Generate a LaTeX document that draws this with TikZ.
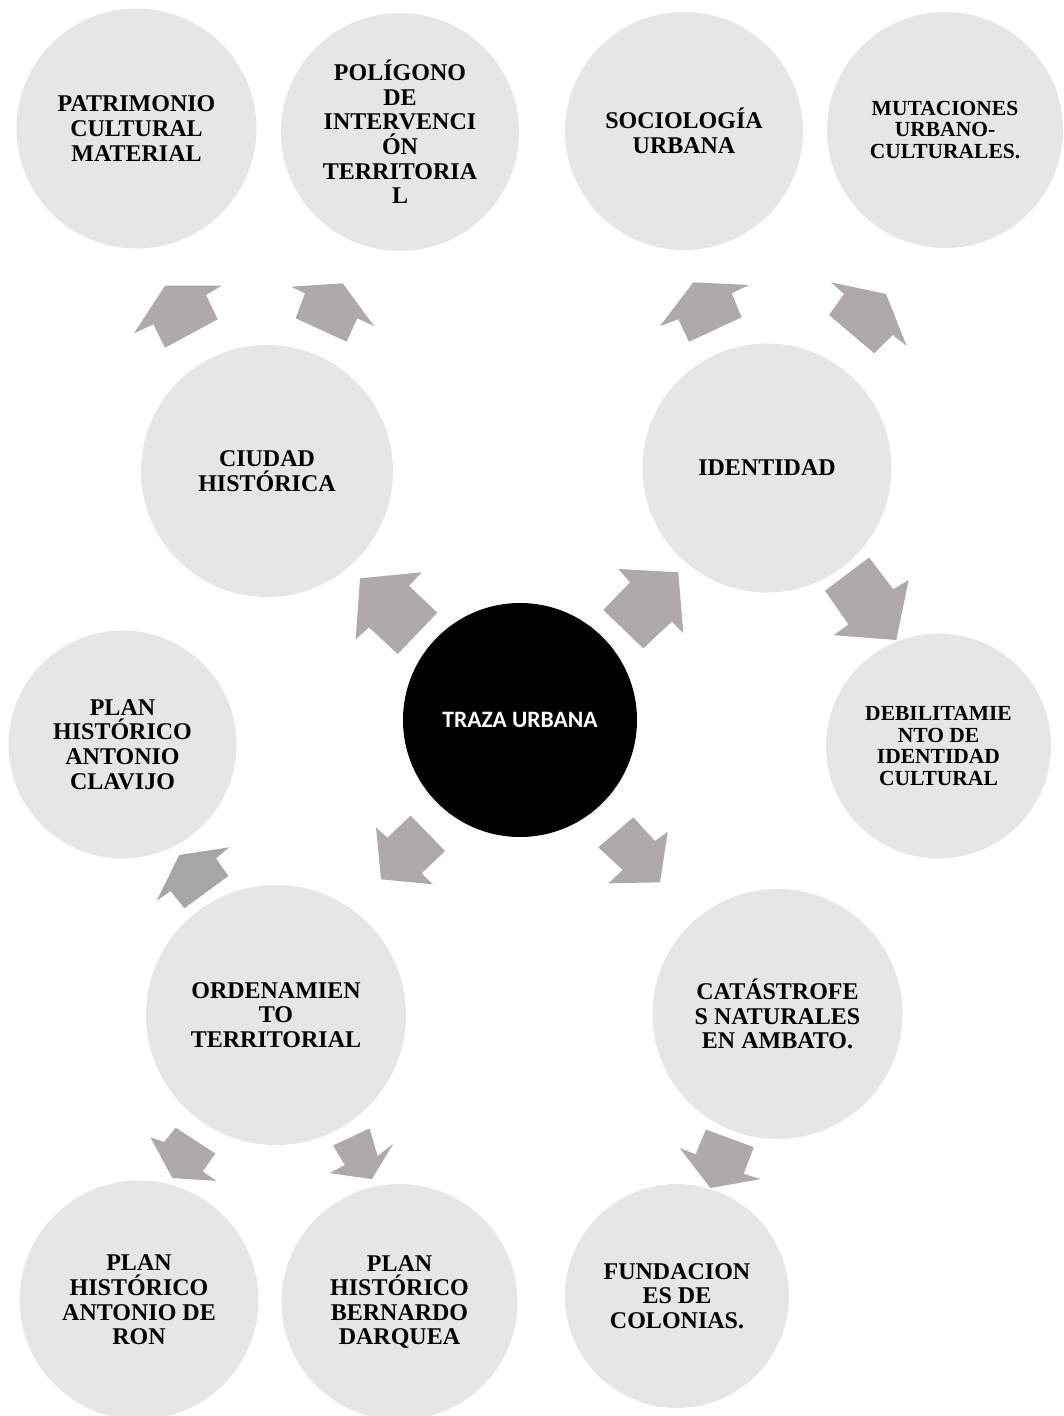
\documentclass[tikz,border=0pt]{standalone}
\usepackage{fontspec}
\setmainfont{Liberation Serif}
\newfontfamily\calibrifont{Carlito}
\definecolor{circfill}{HTML}{E7E6E6}
\definecolor{arrfill}{HTML}{AEAAAA}
\definecolor{arrdark}{HTML}{A6A6A6}
\begin{document}
\begin{tikzpicture}[x=1pt,y=-1pt,
  bubble/.style={circle, fill=circfill, inner sep=0pt, align=center,
    font=\fontsize{24}{24.6}\selectfont\bfseries},
  smalltext/.style={font=\fontsize{21.5}{21.8}\selectfont\bfseries},
  hub/.style={circle, fill=black, inner sep=0pt, text=white,
    font=\calibrifont\fontsize{23.5}{28}\selectfont\bfseries},
  blockarrow/.style={fill=arrfill},
  darkarrow/.style={fill=arrdark}]
\useasboundingbox (0,0) rectangle (1063,1416);
% bubbles
\node[bubble, minimum size=240pt] (patrimonio) at (136.5,128.5) {PATRIMONIO\\CULTURAL\\MATERIAL};
\node[bubble, minimum size=238pt] (poligono) at (400,132) {POLÍGONO\\DE\\INTERVENCI\\ÓN\\TERRITORIA\\L};
\node[bubble, minimum size=238pt] (sociologia) at (684,131) {SOCIOLOGÍA\\URBANA};
\node[bubble, smalltext, minimum size=236pt] (mutaciones) at (945,130) {MUTACIONES\\URBANO-\\CULTURALES.};
\node[bubble, minimum size=252pt] (ciudad) at (267,471) {CIUDAD\\HISTÓRICA};
\node[bubble, minimum size=249pt] (identidad) at (767,468) {IDENTIDAD};
\node[hub, minimum size=234pt] (traza) at (520,720) {TRAZA URBANA};
\node[bubble, minimum size=228pt] (clavijo) at (122.5,744.5) {PLAN\\HISTÓRICO\\ANTONIO\\CLAVIJO};
\node[bubble, smalltext, minimum size=225pt] (debilit) at (938.5,746) {DEBILITAMIE\\NTO DE\\IDENTIDAD\\CULTURAL};
\node[bubble, minimum size=260pt] (ordenam) at (276,1015) {ORDENAMIEN\\TO\\TERRITORIAL};
\node[bubble, minimum size=250pt] (catastro) at (777.5,1014) {CATÁSTROFE\\S NATURALES\\EN AMBATO.};
\node[bubble, minimum size=239pt] (ron) at (139,1300) {PLAN\\HISTÓRICO\\ANTONIO DE\\RON};
\node[bubble, minimum size=236pt] (bernardo) at (399.5,1302) {PLAN\\HISTÓRICO\\BERNARDO\\DARQUEA};
\node[bubble, minimum size=224pt] (fundacion) at (677,1296) {FUNDACION\\ES DE\\COLONIAS.};
% block arrows
% ciudad -> patrimonio
\fill[blockarrow] (165,285.7) -- (221.7,285.7) -- (206,295) -- (217.7,319.3) -- (165,347.7) -- (153.3,324.3) -- (134,333.3) -- cycle;
% ciudad -> poligono
\fill[blockarrow] (291,286.7) -- (342.7,283.3) -- (374,326) -- (357.3,318.3) -- (346.7,341.7) -- (295.7,318.3) -- (305,293.3) -- cycle;
% identidad -> sociologia
\fill[blockarrow] (693.3,282.3) -- (749,285) -- (731.7,293.3) -- (741.7,317.3) -- (689,341.7) -- (678.3,319.3) -- (660,326) -- cycle;
% identidad -> mutaciones
\fill[blockarrow] (831,282.3) -- (886,294) -- (906.7,346) -- (892.7,335) -- (874.3,353.3) -- (829,315) -- (844,294) -- cycle;
% traza -> ciudad
\fill[blockarrow] (360,578.3) -- (421.7,572.3) -- (409,585.7) -- (437.3,612.7) -- (397.7,654) -- (369,627.3) -- (355.7,639.3) -- cycle;
% traza -> identidad
\fill[blockarrow] (618.3,569) -- (678.3,572.3) -- (683.3,633.3) -- (671.7,621.7) -- (643.3,648.3) -- (603.3,610) -- (630,582.3) -- cycle;
% traza -> ordenamiento
\fill[blockarrow] (410.7,815.7) -- (445,851) -- (421.7,873.3) -- (432.7,884.3) -- (381,879.3) -- (376,827.3) -- (387.3,837.7) -- cycle;
% traza -> catastrofes
\fill[blockarrow] (633.3,817.3) -- (655,841) -- (667.7,831.7) -- (660,882.3) -- (608.3,883.3) -- (622.7,870) -- (598.3,847.3) -- cycle;
% identidad -> debilitamiento
\fill[blockarrow] (825,590.7) -- (869.1,557.5) -- (893.3,589.3) -- (908.6,580) -- (896.3,640) -- (833.5,635.2) -- (848.5,624.5) -- cycle;
% ordenamiento -> clavijo
\fill[darkarrow] (179.3,855) -- (229.3,847.3) -- (216,858.3) -- (228.3,876) -- (184.3,908.3) -- (170.7,891) -- (156.7,900.7) -- cycle;
% ordenamiento -> ron
\fill[blockarrow] (175.8,1127.7) -- (215.4,1153.6) -- (202.8,1171.3) -- (216.4,1180.9) -- (172.4,1178.1) -- (150.4,1137.3) -- (164,1141.9) -- cycle;
% ordenamiento -> bernardo
\fill[blockarrow] (369.5,1128.4) -- (377.6,1156.1) -- (393.2,1143.7) -- (371.9,1179.1) -- (329.6,1173.1) -- (344.8,1165) -- (333,1145.5) -- cycle;
% catastrofes -> fundaciones
\fill[blockarrow] (705.9,1129.5) -- (753.8,1147.2) -- (743.6,1173.8) -- (760.6,1179.1) -- (710.3,1188) -- (679.7,1148) -- (695.6,1154.3) -- cycle;
\end{tikzpicture}
\end{document}
